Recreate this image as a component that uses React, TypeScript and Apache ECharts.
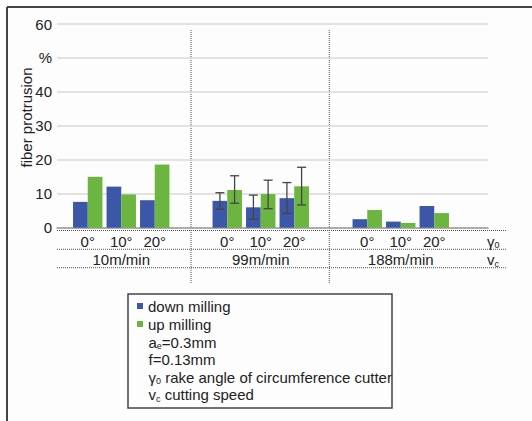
import React, { useEffect, useRef } from "react";
import * as echarts from "echarts";

const angles = ["0°", "10°", "20°"];
const speeds = ["10m/min", "99m/min", "188m/min"];
const downMilling = [
  [7.6, 12.1, 8.1],
  [7.9, 6.0, 8.7],
  [2.5, 1.8, 6.4],
];
const upMilling = [
  [15.0, 9.8, 18.6],
  [11.1, 9.9, 12.2],
  [5.2, 1.4, 4.3],
];
// error ranges (low, high) for 99m/min group
const downErr99 = [
  [5.4, 10.3],
  [2.5, 9.6],
  [4.2, 13.3],
];
const upErr99 = [
  [7.2, 15.3],
  [5.6, 14.0],
  [6.7, 17.8],
];
const yTicks = ["0", "10", "20", "30", "40", "%", "60"];
const legendNotes = [
  "a{s|e}=0.3mm",
  "f=0.13mm",
  "γ{s|0} rake angle of circumference cutter",
  "v{s|c} cutting speed",
];

const BLUE = "#3c56a8";
const GREEN = "#6cb540";
const FONT = "Liberation Sans, Arial, sans-serif";
const TXT = "#222";

export default function App() {
  const ref = useRef<HTMLDivElement>(null);
  useEffect(() => {
    if (!ref.current) return;
    const chart = echarts.init(ref.current, null, { renderer: "svg" });
    const top = 24;
    const height = 203.7;
    const groupLefts = [71, 210.5, 350.5];
    const slotW = 33.5;
    const barW = 14.7;

    const grids: any[] = [{ left: 57, width: 431, top, height }];
    const xAxes: any[] = [
      {
        gridIndex: 0,
        type: "value",
        min: 0,
        max: 1,
        axisLine: { show: true, lineStyle: { color: "#9a9a9a", width: 1.5 } },
        axisTick: { show: false },
        axisLabel: { show: false },
        splitLine: { show: false },
      },
    ];
    const yAxes: any[] = [
      {
        gridIndex: 0,
        type: "value",
        min: 0,
        max: 60,
        interval: 10,
        axisLine: { show: false },
        axisTick: { show: false },
        axisLabel: {
          margin: 5,
          fontSize: 15,
          color: TXT,
          fontFamily: FONT,
          formatter: (v: number) => yTicks[Math.round(v / 10)],
        },
        splitLine: { lineStyle: { color: "#d8d8d8", width: 1.5 } },
      },
    ];
    const series: any[] = [];
    groupLefts.forEach((left, gi) => {
      const idx = gi + 1;
      grids.push({ left, width: slotW * 3, top, height });
      xAxes.push({
        gridIndex: idx,
        type: "category",
        data: angles,
        axisLine: { show: false },
        axisTick: { show: false },
        axisLabel: { margin: 6, fontSize: 15, color: TXT, fontFamily: FONT },
      });
      yAxes.push({ gridIndex: idx, type: "value", min: 0, max: 60, show: false });
      series.push({
        type: "bar",
        name: "down milling",
        xAxisIndex: idx,
        yAxisIndex: idx,
        data: downMilling[gi],
        barWidth: barW,
        barGap: "0%",
        itemStyle: { color: BLUE },
      });
      series.push({
        type: "bar",
        name: "up milling",
        xAxisIndex: idx,
        yAxisIndex: idx,
        data: upMilling[gi],
        barWidth: barW,
        barGap: "0%",
        itemStyle: { color: GREEN },
      });
    });

    const errSeries = (errs: number[][], offset: number) => ({
      type: "custom",
      xAxisIndex: 2,
      yAxisIndex: 2,
      silent: true,
      z: 10,
      data: errs.map((e, i) => [i, e[0], e[1]]),
      encode: { x: 0, y: [1, 2] },
      renderItem: (params: any, api: any) => {
        const lo = api.coord([api.value(0), api.value(1)]);
        const hi = api.coord([api.value(0), api.value(2)]);
        const x = lo[0] + offset;
        const cap = 4.5;
        const st = { stroke: "#444", lineWidth: 1.3 };
        return {
          type: "group",
          children: [
            { type: "line", shape: { x1: x, y1: lo[1], x2: x, y2: hi[1] }, style: st },
            { type: "line", shape: { x1: x - cap, y1: lo[1], x2: x + cap, y2: lo[1] }, style: st },
            { type: "line", shape: { x1: x - cap, y1: hi[1], x2: x + cap, y2: hi[1] }, style: st },
          ],
        };
      },
    });
    series.push(errSeries(downErr99, -barW / 2));
    series.push(errSeries(upErr99, barW / 2));

    const dotted = { stroke: "#555", lineWidth: 1, lineDash: [1, 1] };
    const sub = { s: { fontSize: 9, fill: TXT, fontFamily: FONT, padding: [8, 0, 0, 0] } };
    const graphic: any[] = [
      // frame
      { type: "line", shape: { x1: 7, y1: 7, x2: 532, y2: 7 }, style: { stroke: "#444", lineWidth: 2 } },
      { type: "line", shape: { x1: 7, y1: 7, x2: 7, y2: 421 }, style: { stroke: "#444", lineWidth: 2 } },
      // y axis title
      {
        type: "text",
        x: 26.5,
        y: 117.5,
        rotation: Math.PI / 2,
        style: { text: "fiber protrusion", fontSize: 15, fill: TXT, fontFamily: FONT, align: "center", verticalAlign: "middle" },
      },
      // dividers
      { type: "line", shape: { x1: 191, y1: 30, x2: 191, y2: 284 }, style: dotted },
      { type: "line", shape: { x1: 329.3, y1: 30, x2: 329.3, y2: 284 }, style: dotted },
      // table lines
      { type: "line", shape: { x1: 57, y1: 230.5, x2: 506, y2: 230.5 }, style: dotted },
      { type: "line", shape: { x1: 57, y1: 249.3, x2: 506, y2: 249.3 }, style: dotted },
      { type: "line", shape: { x1: 57, y1: 267.7, x2: 506, y2: 267.7 }, style: dotted },
      {
        type: "text",
        x: 487,
        y: 241,
        style: { text: "γ{s|0}", rich: sub, fontSize: 15, fill: TXT, fontFamily: FONT, verticalAlign: "middle" },
      },
      {
        type: "text",
        x: 487,
        y: 259.5,
        style: { text: "v{s|c}", rich: sub, fontSize: 15, fill: TXT, fontFamily: FONT, verticalAlign: "middle" },
      },
      // legend box
      { type: "rect", shape: { x: 128, y: 294, width: 264, height: 114 }, style: { fill: "none", stroke: "#444", lineWidth: 1.5 } },
    ];
    const groupCenters = groupLefts.map((l) => l + slotW * 1.5);
    speeds.forEach((s, i) => {
      graphic.push({
        type: "text",
        x: groupCenters[i],
        y: 259.5,
        style: { text: s, fontSize: 15, fill: TXT, fontFamily: FONT, align: "center", verticalAlign: "middle" },
      });
    });
    legendNotes.forEach((t, i) => {
      graphic.push({
        type: "text",
        x: 148.5,
        y: 342.3 + i * 17.4,
        style: { text: t, rich: sub, fontSize: 15, fill: TXT, fontFamily: FONT, verticalAlign: "middle" },
      });
    });

    chart.setOption({
      animation: false,
      backgroundColor: "#fdfdfd",
      textStyle: { fontFamily: FONT },
      grid: grids,
      xAxis: xAxes,
      yAxis: yAxes,
      legend: {
        data: ["down milling", "up milling"],
        orient: "vertical",
        left: 137,
        top: 297,
        padding: 0,
        icon: "rect",
        itemWidth: 6,
        itemHeight: 6,
        itemGap: 0,
        textStyle: { fontSize: 15, color: TXT, fontFamily: FONT, lineHeight: 18 },
      },
      series,
      graphic,
    });
    return () => chart.dispose();
  }, []);
  return (
    <div
      ref={ref}
      style={{ position: "absolute", left: 0, top: 0, width: 532, height: 421 }}
    />
  );
}
